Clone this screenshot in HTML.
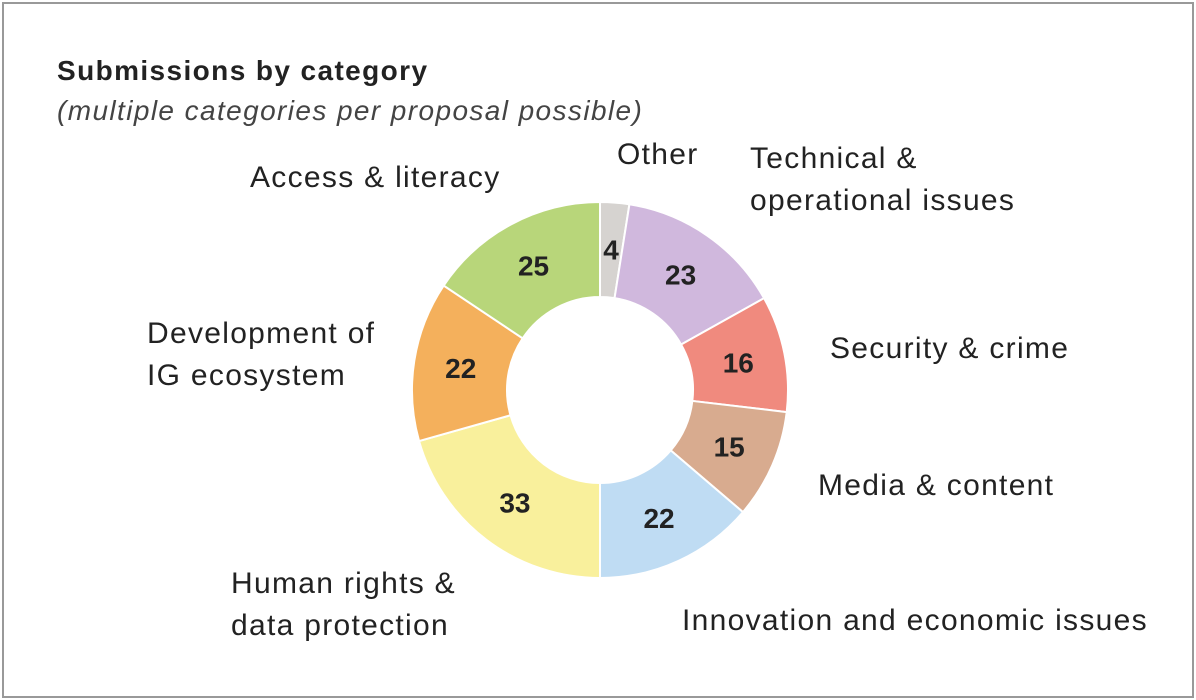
<!DOCTYPE html>
<html><head><meta charset="utf-8"><style>
html,body{margin:0;padding:0;background:#fff;}
body{width:1196px;height:700px;position:relative;overflow:hidden;font-family:"Liberation Sans",sans-serif;color:#222;}
.frame{position:absolute;left:2px;top:2px;width:1188px;height:692px;border:2px solid #999;}
.t{position:absolute;font-size:30px;line-height:42px;color:#222;white-space:nowrap;letter-spacing:1.3px;}
</style></head><body>
<div class="frame"></div>
<div class="t" style="left:57px;top:50px;font-weight:bold;font-size:28px;letter-spacing:1.4px;">Submissions by category</div>
<div class="t" style="left:57px;top:90px;font-style:italic;font-size:28px;color:#444;letter-spacing:1.4px;">(multiple categories per proposal possible)</div>
<div class="t" style="left:250px;top:157px;">Access &amp; literacy</div>
<div class="t" style="left:617px;top:134px;">Other</div>
<div class="t" style="left:750px;top:138px;">Technical &amp;<br>operational issues</div>
<div class="t" style="left:147px;top:313px;">Development of<br>IG ecosystem</div>
<div class="t" style="left:830px;top:328px;">Security &amp; crime</div>
<div class="t" style="left:818px;top:465px;">Media &amp; content</div>
<div class="t" style="left:682px;top:600px;">Innovation and economic issues</div>
<div class="t" style="left:231px;top:563px;">Human rights &amp;<br>data protection</div>
<svg id="s" width="1196" height="700" style="position:absolute;left:0;top:0;"></svg>
<script>
var d=[[4,'#d6d3d0'],[23,'#d0b8dd'],[16,'#f08a7e'],[15,'#d8ab8f'],[22,'#bfdcf3'],[33,'#f9f09c'],[22,'#f4b05c'],[25,'#b8d67a']];
var cx=600,cy=390,R=188,r=93,tot=160,a=0,h='';
function p(rad,ang){return [cx+rad*Math.sin(ang),cy-rad*Math.cos(ang)];}
d.forEach(function(x){var a0=a/tot*2*Math.PI;a+=x[0];var a1=a/tot*2*Math.PI;
var l=(a1-a0)>Math.PI?1:0;var o0=p(R,a0),o1=p(R,a1),i1=p(r,a1),i0=p(r,a0);
h+='<path d="M'+o0+' A'+R+','+R+' 0 '+l+' 1 '+o1+' L'+i1+' A'+r+','+r+' 0 '+l+' 0 '+i0+' Z" fill="'+x[1]+'" stroke="#fff" stroke-width="2"/>';
var m=(a0+a1)/2,t=p(141,m);
h+='<text x="'+t[0]+'" y="'+(t[1]+10)+'" text-anchor="middle" font-family="Liberation Sans, sans-serif" font-weight="bold" font-size="28" fill="#222">'+x[0]+'</text>';});
document.getElementById('s').innerHTML=h;
</script>
</body></html>
